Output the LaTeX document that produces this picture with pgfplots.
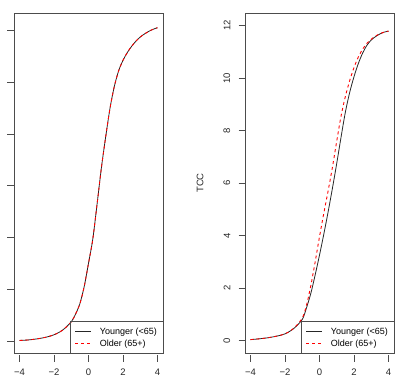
\documentclass[border=0pt]{standalone}
\usepackage{pgfplots}
\usepackage{pgfplotstable}
\pgfplotsset{compat=1.18}
\usepackage{fontspec}
\setmainfont{Liberation Sans}
\pgfplotstableread{
theta T
-4 0.01
-3.5 0.02
-3 0.04
-2.5 0.07
-2 0.12
-1.5 0.21
-1 0.37
-0.75 0.52
-0.5 0.72
-0.25 1.05
0 1.5
0.25 1.97
0.5 2.65
0.75 3.35
1 3.95
1.25 4.5
1.5 4.92
1.75 5.22
2 5.42
2.25 5.57
2.5 5.69
2.75 5.79
3 5.87
3.25 5.93
3.5 5.98
3.75 6.02
4 6.05
}\lefttcc
\pgfplotstableread{
theta T
-4 0.03
-3.5 0.06
-3 0.10
-2.5 0.16
-2 0.25
-1.5 0.45
-1 0.80
-0.75 1.25
-0.5 1.8
-0.25 2.5
0 3.25
0.25 4.05
0.5 4.9
0.75 5.8
1 6.75
1.25 7.75
1.5 8.7
1.75 9.45
2 10.05
2.25 10.55
2.5 10.95
2.75 11.25
3 11.45
3.25 11.58
3.5 11.68
3.75 11.75
4 11.79
}\younger
\pgfplotstableread{
theta T
-4 0.03
-3.5 0.06
-3 0.10
-2.5 0.16
-2 0.25
-1.5 0.46
-1 0.85
-0.75 1.35
-0.5 2.1
-0.25 3.0
0 3.95
0.25 4.85
0.5 5.7
0.75 6.6
1 7.6
1.25 8.55
1.5 9.3
1.75 9.9
2 10.4
2.25 10.8
2.5 11.1
2.75 11.32
3 11.48
3.25 11.6
3.5 11.69
3.75 11.75
4 11.79
}\older
\begin{document}
\begin{tikzpicture}
\pgfplotsset{
  rplot/.style={
    scale only axis, width=149bp, height=340bp, anchor=south west,
    xmin=-4.32, xmax=4.32,
    axis line style={black!70, line width=0.6bp},
    tick style={black!70, line width=0.6bp},
    tick align=outside, major tick length=6.5bp,
    xtick pos=bottom, ytick pos=left,
    xtick={-4,-2,0,2,4}, xticklabels={−4,−2,0,2,4},
    xtick style={yshift=-2bp},
    ticklabel style={font=\fontsize{9.5bp}{11bp}\selectfont, text=black!85},
    xticklabel style={anchor=north, inner sep=0pt, yshift=-9bp},
    legend style={at={(rel axis cs:1,0)}, anchor=south east,
      draw=none, fill=none,
      inner xsep=4bp, inner ysep=3bp,
      font=\fontsize{9bp}{10bp}\selectfont, row sep=0pt, column sep=6bp,
      cells={anchor=west}},
    legend image code/.code={\draw[#1] (0bp,0bp) -- (16bp,0bp);},
  },
  young/.style={draw=black!85, line width=0.8bp, smooth},
  old/.style={draw=red, line width=0.9bp, dash pattern=on 3bp off 3bp, smooth},
}
\begin{axis}[rplot, at={(14bp,24bp)},
  ymin=-0.232, ymax=6.334, ytick={0,1,2,3,4,5,6}, yticklabels={}]
\addplot[young] table[x=theta,y=T] {\lefttcc};
\addlegendentry{Younger (<65)}
\addplot[old] table[x=theta,y=T] {\lefttcc};
\addlegendentry{Older (65+)}
\draw[draw=black!70, line width=0.6bp] ([xshift=-93bp]rel axis cs:1,0) rectangle ([yshift=31.3bp]rel axis cs:1,0);
\end{axis}
\begin{axis}[rplot, at={(245bp,24bp)},
  ymin=-0.48, ymax=12.48, ytick={0,2,4,6,8,10,12}, yticklabels={0,2,4,6,8,10,12},
  yticklabel style={rotate=90, anchor=south, inner sep=0pt, yshift=8bp},
  ylabel={TCC},
  ylabel style={at={(rel axis cs:0,0.5)}, anchor=center, yshift=45bp, font=\fontsize{9.5bp}{11bp}\selectfont, text=black!85}]
\addplot[young] table[x=theta,y=T] {\younger};
\addlegendentry{Younger (<65)}
\addplot[old] table[x=theta,y=T] {\older};
\addlegendentry{Older (65+)}
\draw[draw=black!70, line width=0.6bp] ([xshift=-93bp]rel axis cs:1,0) rectangle ([yshift=31.3bp]rel axis cs:1,0);
\end{axis}
\pgfresetboundingbox
\path[use as bounding box] (0,0) rectangle (401bp,377bp);
\end{tikzpicture}
\end{document}
